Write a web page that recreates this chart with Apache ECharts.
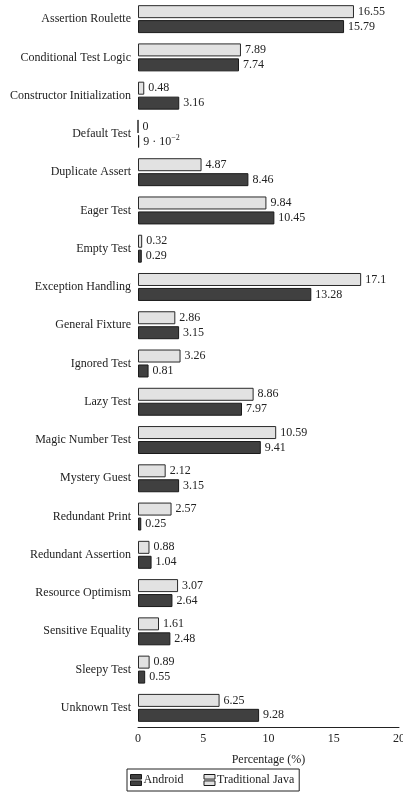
<!DOCTYPE html>
<html><head><meta charset="utf-8">
<script src="https://cdn.jsdelivr.net/npm/echarts@6/dist/echarts.min.js"></script>
<style>html,body{margin:0;padding:0;background:#fff}#c{width:403px;height:793px}</style>
</head><body><div id="c"></div>
<script>
const categories = ["Assertion Roulette","Conditional Test Logic","Constructor Initialization","Default Test","Duplicate Assert","Eager Test","Empty Test","Exception Handling","General Fixture","Ignored Test","Lazy Test","Magic Number Test","Mystery Guest","Redundant Print","Redundant Assertion","Resource Optimism","Sensitive Equality","Sleepy Test","Unknown Test"];
const javaValues = [16.55,7.89,0.48,0,4.87,9.84,0.32,17.1,2.86,3.26,8.86,10.59,2.12,2.57,0.88,3.07,1.61,0.89,6.25];
const androidValues = [15.79,7.74,3.16,0.09,8.46,10.45,0.29,13.28,3.15,0.81,7.97,9.41,3.15,0.25,1.04,2.64,2.48,0.55,9.28];
const xTicks = [0,5,10,15,20];

const FONT = '"Liberation Serif", "DejaVu Serif", serif';
const chart = echarts.init(document.getElementById('c'), null, {renderer:'canvas'});
const lblRich = {
  a:{fontFamily:FONT,fontSize:12,color:'#222'},
  sup:{fontFamily:FONT,fontSize:8,color:'#222',verticalAlign:'top',padding:[0,0,7,0]}
};
function fmt(p){
  const v = p.value;
  if (v > 0 && v < 0.1) { return '{a|' + Math.round(v*100) + ' · 10}{sup|−2}'; }
  return '{a|' + v + '}';
}
const iconPath = 'path://M0,0H12V5H0Z M0,7H12V12H0Z';
chart.setOption({
  animation:false,
  grid:{left:138,right:4,top:0,bottom:66,containLabel:false,outerBoundsMode:'none'},
  legend:{
    bottom:2,left:127,
    data:[
      {name:'Android',icon:iconPath,itemStyle:{color:'#404040',borderColor:'#1a1a1a',borderWidth:1}},
      {name:'Traditional Java',icon:iconPath,itemStyle:{color:'#e2e2e2',borderColor:'#1a1a1a',borderWidth:1}}
    ],
    itemWidth:11,itemHeight:12,itemGap:20,
    borderColor:'#222',borderWidth:1,borderRadius:0,padding:[5,5,5,3],
    textStyle:{fontFamily:FONT,fontSize:12,color:'#222',padding:[0,0,0,-3]}
  },
  xAxis:{
    type:'value',min:0,max:20,interval:5,
    name:'Percentage (%)',nameLocation:'middle',nameGap:27,
    nameTextStyle:{fontFamily:FONT,fontSize:12,color:'#222'},
    axisLine:{show:true,lineStyle:{color:'#222',width:1}},
    axisTick:{show:false},
    splitLine:{show:false},
    axisLabel:{fontFamily:FONT,fontSize:12,color:'#222',margin:6,
      formatter:function(v){return xTicks.indexOf(v)>=0?String(v):'';}}
  },
  yAxis:{
    type:'category',data:categories,inverse:true,
    axisLine:{show:false},axisTick:{show:false},
    axisLabel:{fontFamily:FONT,fontSize:12,color:'#222',margin:7}
  },
  series:[
    {name:'Traditional Java',type:'bar',data:javaValues,barWidth:13,barGap:'15%',barCategoryGap:'24%',
      itemStyle:{color:'#e2e2e2',borderColor:'#2a2a2a',borderWidth:1},
      label:{show:true,position:'right',distance:4,formatter:fmt,rich:lblRich}},
    {name:'Android',type:'bar',data:androidValues,barWidth:13,barGap:'15%',
      itemStyle:{color:'#404040',borderColor:'#1a1a1a',borderWidth:1},
      label:{show:true,position:'right',distance:4,formatter:fmt,rich:lblRich}}
  ]
});
</script></body></html>
